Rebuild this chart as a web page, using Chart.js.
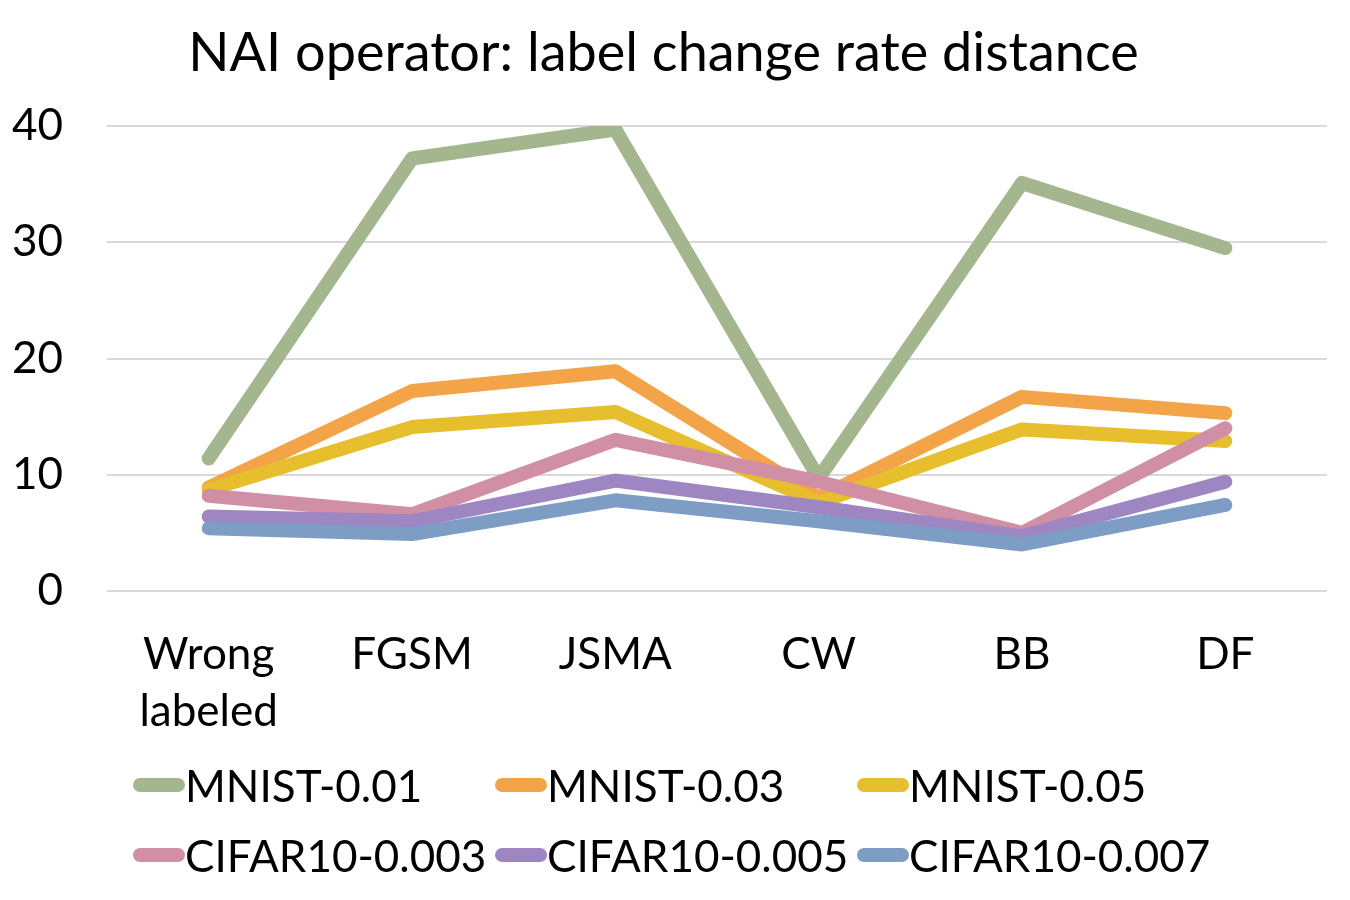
<!DOCTYPE html>
<html>
<head>
<meta charset="utf-8">
<script src="https://cdn.jsdelivr.net/npm/chart.js@4.4.1/dist/chart.umd.min.js"></script>
<style>
  html, body { margin: 0; padding: 0; background: #fff; }
  #wrap { position: relative; width: 1350px; height: 900px; }
  #c { position: absolute; left: 0; top: 0; }
  .leg { position: absolute; display: flex; align-items: center; font-family: Lato, "Open Sans", sans-serif; font-size: 44px; color: #000; white-space: nowrap; }
  .leg .mk { width: 52px; height: 14px; border-radius: 7px; margin-right: 0px; }
</style>
</head>
<body>
<div id="wrap">
  <canvas id="c" width="1350" height="900"></canvas>
</div>
<script>
const categories = [["Wrong", "labeled"], "FGSM", "JSMA", "CW", "BB", "DF"];
const seriesNames = ["MNIST-0.01", "MNIST-0.03", "MNIST-0.05", "CIFAR10-0.003", "CIFAR10-0.005", "CIFAR10-0.007"];
const mnist001 = [11.4, 37.2, 39.7, 9.7, 35.1, 29.5];
const mnist003 = [8.9, 17.2, 18.9, 8.0, 16.7, 15.3];
const mnist005 = [8.7, 14.1, 15.4, 7.6, 13.9, 12.9];
const cifar0003 = [8.2, 6.6, 13.0, 9.4, 5.0, 14.0];
const cifar0005 = [6.4, 6.0, 9.5, 7.2, 4.7, 9.4];
const cifar0007 = [5.4, 4.9, 7.8, 6.0, 4.0, 7.4];
const seriesColors = ["#A3B68E", "#F3A449", "#E7BE2D", "#D08FA5", "#9D86C1", "#7D9DC5"];
const yTicks = [0, 10, 20, 30, 40];

const seriesValues = [mnist001, mnist003, mnist005, cifar0003, cifar0005, cifar0007];
const n = seriesValues.length;
const datasets = seriesValues.map((vals, i) => ({
  label: seriesNames[i],
  data: vals,
  borderColor: seriesColors[i],
  backgroundColor: seriesColors[i],
  borderWidth: 14,
  borderCapStyle: 'round',
  borderJoinStyle: 'round',
  pointRadius: 0,
  pointHoverRadius: 0,
  tension: 0,
  fill: false,
  order: n - i
}));

const FONT = 'Lato, "Open Sans", sans-serif';

new Chart(document.getElementById('c'), {
  type: 'line',
  data: { labels: categories, datasets },
  options: {
    responsive: false,
    animation: false,
    devicePixelRatio: 1,
    layout: { padding: { left: 0, right: 23, top: 0, bottom: 0 } },
    plugins: {
      legend: { display: false },
      tooltip: { enabled: false },
      title: {
        display: true,
        text: 'NAI operator: label change rate distance',
        color: '#000',
        font: { family: FONT, size: 54, weight: 'normal', lineHeight: 1.2 },
        padding: { top: 21, bottom: 40.2 }
      }
    },
    scales: {
      x: {
        offset: true,
        grid: { display: false, drawTicks: false },
        border: { display: false },
        ticks: {
          color: '#000',
          font: { family: FONT, size: 44, lineHeight: 1.3 },
          padding: 35,
          maxRotation: 0,
          autoSkip: false
        },
        afterFit: (s) => { s.height = 309; }
      },
      y: {
        min: 0,
        max: 40,
        afterBuildTicks: (s) => { s.ticks = yTicks.map(v => ({ value: v })); },
        grid: { color: '#D9D9D9', lineWidth: 2, drawTicks: false },
        border: { display: false },
        ticks: {
          color: '#000',
          font: { family: FONT, size: 44 },
          padding: 44
        },
        afterFit: (s) => { s.width = 107; }
      }
    }
  }
});

// Legend (HTML) built from the series names/colors
const wrap = document.getElementById('wrap');
const colX = [133, 495, 857];
const rowY = [785, 855];
seriesNames.forEach((name, i) => {
  const d = document.createElement('div');
  d.className = 'leg';
  d.style.left = colX[i % 3] + 'px';
  d.style.top = (rowY[Math.floor(i / 3)] - 30) + 'px';
  d.style.height = '60px';
  const mk = document.createElement('span');
  mk.className = 'mk';
  mk.style.background = seriesColors[i];
  const t = document.createElement('span');
  t.textContent = name;
  d.appendChild(mk);
  d.appendChild(t);
  wrap.appendChild(d);
});
</script>
</body>
</html>
